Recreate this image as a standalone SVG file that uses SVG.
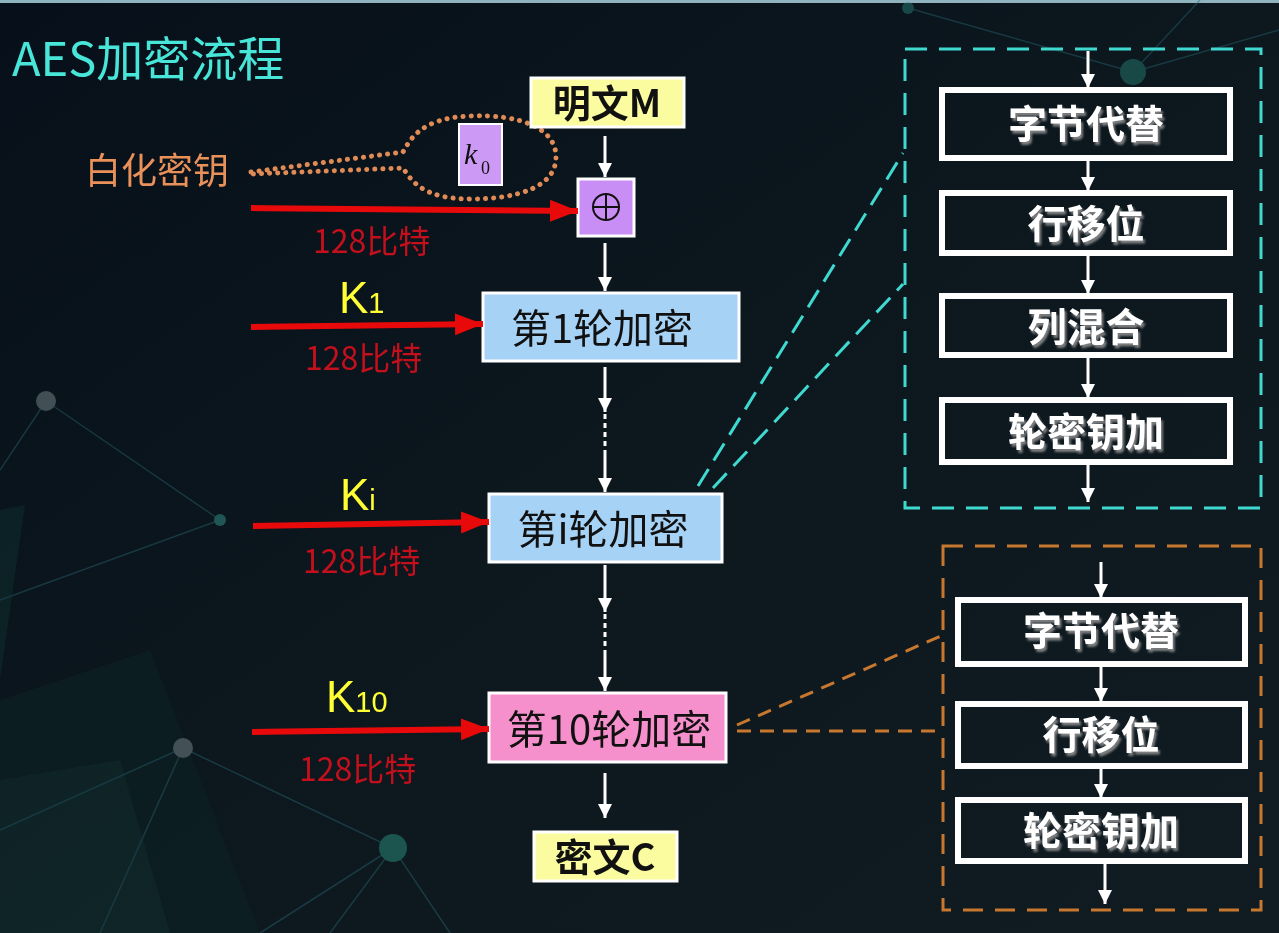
<svg xmlns="http://www.w3.org/2000/svg" width="1279" height="933" viewBox="0 0 1279 933">
<defs>
<linearGradient id="bg" x1="0" y1="0" x2="1" y2="1">
<stop offset="0" stop-color="#07101a"/>
<stop offset="0.5" stop-color="#0c171e"/>
<stop offset="1" stop-color="#101c22"/>
</linearGradient>
<marker id="wa" markerUnits="userSpaceOnUse" markerWidth="16" markerHeight="18" refX="14" refY="8" orient="auto">
<path d="M0,1 L14,8 L0,15 Z" fill="#ffffff"/>
</marker>
<marker id="ra" markerUnits="userSpaceOnUse" markerWidth="30" markerHeight="24" refX="28" refY="11" orient="auto">
<path d="M0,0 L28,11 L0,22 Z" fill="#e80a0a"/>
</marker>
<filter id="sh" x="-10%" y="-20%" width="130%" height="150%">
<feDropShadow dx="2" dy="3" stdDeviation="1.2" flood-color="#8a8a8a" flood-opacity="0.9"/>
</filter>
</defs>
<style>
.cjk{font-family:"Noto Sans CJK SC","Noto Sans",sans-serif}
.box{stroke:#ffffff;stroke-width:3}
.round{font-size:40px;fill:#111111;text-anchor:middle}
.bold{font-weight:bold;fill:#111111;text-anchor:middle;font-size:38px}
.wl{stroke:#ffffff;stroke-width:3;fill:none}
.rl{stroke:#e80a0a;stroke-width:6;fill:none}
.bits{font-size:32px;fill:#c3101c}
.klab{font-family:"Liberation Sans",Arial,sans-serif;fill:#ffff33}
.step{fill:none;stroke:#ffffff;stroke-width:6}
.stxt{font-size:39px;font-weight:bold;fill:#ffffff;text-anchor:middle}
.cy{stroke:#3fd9d0;stroke-width:3;fill:none;stroke-dasharray:22 12}
.or{stroke:#c8782e;stroke-width:3;fill:none;stroke-dasharray:20 12}
</style>
<rect width="1279" height="933" fill="url(#bg)"/>
<rect width="1279" height="3" fill="#8fb4c0"/>
<g id="decor" opacity="0.45">
<polygon points="0,700 150,650 260,933 0,933" fill="#12302e" opacity="0.6"/>
<polygon points="0,780 120,760 170,933 0,933" fill="#17403a" opacity="0.6"/>
<polygon points="0,510 25,505 0,680" fill="#16403a" opacity="0.7"/>
<g stroke="#2a6670" stroke-width="1.5" fill="none">
<line x1="46" y1="401" x2="220" y2="520"/>
<line x1="0" y1="470" x2="46" y2="401"/>
<line x1="220" y1="520" x2="0" y2="600"/>
<line x1="183" y1="748" x2="393" y2="848"/>
<line x1="183" y1="748" x2="0" y2="830"/>
<line x1="393" y1="848" x2="330" y2="933"/>
<line x1="393" y1="848" x2="450" y2="933"/>
<line x1="393" y1="848" x2="260" y2="933"/>
<line x1="183" y1="748" x2="100" y2="933"/>
<line x1="1133" y1="72" x2="1279" y2="30"/>
<line x1="1133" y1="72" x2="1200" y2="0"/>
<line x1="908" y1="8" x2="1133" y2="72"/>
</g>
<circle cx="46" cy="401" r="10" fill="#8a9a9c"/>
<circle cx="220" cy="520" r="6" fill="#3aa89a"/>
<circle cx="183" cy="748" r="10" fill="#8a9a9c"/>
<circle cx="393" cy="848" r="14" fill="#2fa08e"/>
<circle cx="1133" cy="72" r="13" fill="#2a8a7c"/>
<circle cx="908" cy="8" r="6" fill="#2a8a7c"/>
</g>
<text class="cjk" x="12" y="76" font-size="47" fill="#48e6d8">AES加密流程</text>
<g id="whiten-label">
<text class="cjk" x="85" y="184" font-size="36" fill="#ea915a">白化密钥</text>
<path d="M251,172 L403,152 C410,140 420,118 470,116 C520,114 556,128 556,157 C556,186 520,199 470,199 C420,199 410,178 403,168 L251,174" fill="none" stroke="#e08a55" stroke-width="5" stroke-dasharray="0.1 8" stroke-linecap="round"/>
</g>
<g id="k0">
<rect x="459" y="124" width="43" height="61" fill="#cc99f5" stroke="#ffffff" stroke-width="2"/>
<text x="464" y="164" font-family="Liberation Serif,serif" font-style="italic" font-size="30" fill="#111">k</text>
<text x="481" y="174" font-family="Liberation Serif,serif" font-size="18" fill="#111">0</text>
</g>
<g id="plaintext">
<rect class="box" x="531" y="78" width="153" height="49" fill="#fbfba0"/>
<text class="cjk bold" x="607" y="117">明文M</text>
</g>
<g id="xor">
<rect class="box" x="578" y="179" width="56" height="57" fill="#c98ef5"/>
<circle cx="606" cy="207" r="13" fill="none" stroke="#111" stroke-width="2"/>
<line x1="593" y1="207" x2="619" y2="207" stroke="#111" stroke-width="2"/>
<line x1="606" y1="194" x2="606" y2="220" stroke="#111" stroke-width="2"/>
</g>
<g id="round1">
<rect class="box" x="483" y="293" width="256" height="68" fill="#a6d2f6"/>
<text class="cjk round" x="602" y="343">第1轮加密</text>
</g>
<g id="roundi">
<rect class="box" x="489" y="494" width="233" height="68" fill="#a6d2f6"/>
<text class="cjk round" x="603" y="544">第i轮加密</text>
</g>
<g id="round10">
<rect class="box" x="489" y="693" width="237" height="69" fill="#f590cc"/>
<text class="cjk round" x="609" y="744">第10轮加密</text>
</g>
<g id="ciphertext">
<rect class="box" x="534" y="832" width="143" height="49" fill="#fbfba0"/>
<text class="cjk bold" x="605" y="871">密文C</text>
</g>
<g id="key-labels">
<text class="cjk bits" x="313" y="253">128比特</text>
<text class="klab" x="339" y="313" font-size="44">K<tspan font-size="29">1</tspan></text>
<text class="cjk bits" x="305" y="370">128比特</text>
<text class="klab" x="340" y="510" font-size="44">K<tspan font-size="29">i</tspan></text>
<text class="cjk bits" x="303" y="573">128比特</text>
<text class="klab" x="326" y="712" font-size="44">K<tspan font-size="29">10</tspan></text>
<text class="cjk bits" x="299" y="781">128比特</text>
</g>
<g id="step-box-1">
<rect x="905" y="49" width="356" height="459" class="cy"/>
<rect class="step" x="942" y="90" width="288" height="68"/>
<text class="cjk stxt" x="1086" y="138" filter="url(#sh)">字节代替</text>
<rect class="step" x="942" y="193" width="288" height="60"/>
<text class="cjk stxt" x="1086" y="238" filter="url(#sh)">行移位</text>
<rect class="step" x="942" y="296" width="288" height="59"/>
<text class="cjk stxt" x="1086" y="341" filter="url(#sh)">列混合</text>
<rect class="step" x="942" y="400" width="288" height="62"/>
<text class="cjk stxt" x="1086" y="446" filter="url(#sh)">轮密钥加</text>
</g>
<g id="step-box-2">
<rect x="943" y="546" width="318" height="364" class="or"/>
<rect class="step" x="958" y="600" width="287" height="64"/>
<text class="cjk stxt" x="1101" y="645" filter="url(#sh)">字节代替</text>
<rect class="step" x="958" y="704" width="287" height="62"/>
<text class="cjk stxt" x="1101" y="749" filter="url(#sh)">行移位</text>
<rect class="step" x="958" y="800" width="287" height="61"/>
<text class="cjk stxt" x="1101" y="845" filter="url(#sh)">轮密钥加</text>
</g>
<g id="connectors">
<line class="wl" x1="605" y1="136" x2="605" y2="177" marker-end="url(#wa)"/>
<line class="wl" x1="605" y1="243" x2="605" y2="291" marker-end="url(#wa)"/>
<line class="wl" x1="605" y1="367" x2="605" y2="412" marker-end="url(#wa)"/>
<line class="wl" x1="605" y1="414" x2="605" y2="455" stroke-dasharray="5 4"/>
<line class="wl" x1="605" y1="455" x2="605" y2="492" marker-end="url(#wa)"/>
<line class="wl" x1="605" y1="565" x2="605" y2="612" marker-end="url(#wa)"/>
<line class="wl" x1="605" y1="614" x2="605" y2="655" stroke-dasharray="5 4"/>
<line class="wl" x1="605" y1="655" x2="605" y2="691" marker-end="url(#wa)"/>
<line class="wl" x1="605" y1="773" x2="605" y2="818" marker-end="url(#wa)"/>
<line class="rl" x1="251" y1="208" x2="578" y2="211" marker-end="url(#ra)"/>
<line class="rl" x1="251" y1="327" x2="483" y2="324" marker-end="url(#ra)"/>
<line class="rl" x1="253" y1="526" x2="489" y2="522" marker-end="url(#ra)"/>
<line class="rl" x1="252" y1="732" x2="489" y2="729" marker-end="url(#ra)"/>
<line class="wl" x1="1088" y1="51" x2="1088" y2="88" marker-end="url(#wa)"/>
<line class="wl" x1="1088" y1="161" x2="1088" y2="191" marker-end="url(#wa)"/>
<line class="wl" x1="1088" y1="256" x2="1088" y2="294" marker-end="url(#wa)"/>
<line class="wl" x1="1088" y1="358" x2="1088" y2="398" marker-end="url(#wa)"/>
<line class="wl" x1="1088" y1="465" x2="1088" y2="502" marker-end="url(#wa)"/>
<line class="wl" x1="1101" y1="562" x2="1101" y2="598" marker-end="url(#wa)"/>
<line class="wl" x1="1101" y1="667" x2="1101" y2="702" marker-end="url(#wa)"/>
<line class="wl" x1="1101" y1="769" x2="1101" y2="798" marker-end="url(#wa)"/>
<line class="wl" x1="1105" y1="864" x2="1105" y2="904" marker-end="url(#wa)"/>
<line x1="698" y1="486" x2="903" y2="153" stroke="#3fd9d0" stroke-width="3" stroke-dasharray="20 10"/>
<line x1="713" y1="488" x2="903" y2="284" stroke="#3fd9d0" stroke-width="3" stroke-dasharray="20 10"/>
<line x1="737" y1="725" x2="943" y2="635" stroke="#c8782e" stroke-width="3" stroke-dasharray="14 9"/>
<line x1="737" y1="731" x2="943" y2="731" stroke="#c8782e" stroke-width="3" stroke-dasharray="14 9"/>
</g>
</svg>
